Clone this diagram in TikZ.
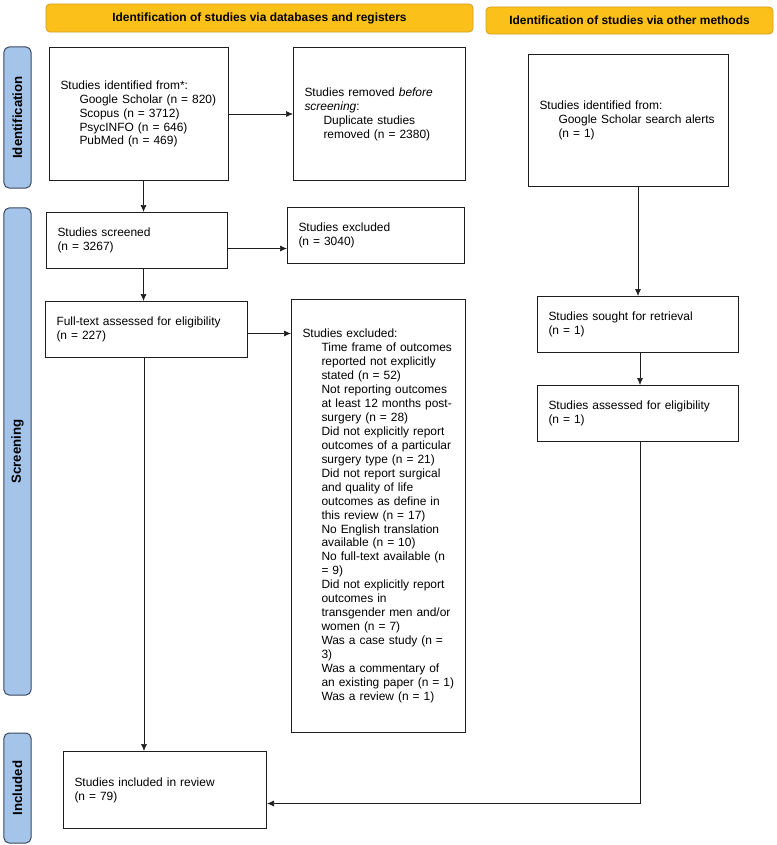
\documentclass[tikz,border=0pt]{standalone}
\usepackage{fontspec}
\setmainfont{Liberation Sans}
\usepackage{tikz}
\usetikzlibrary{arrows.meta, positioning}
\usepackage{xcolor}
\definecolor{HeadFill}{RGB}{251,192,26}
\definecolor{HeadLine}{RGB}{212,158,40}
\definecolor{PhaseFill}{RGB}{164,196,234}
\definecolor{PhaseLine}{RGB}{60,72,95}
\definecolor{LineBlack}{RGB}{30,30,30}
\newcommand{\ind}{\hspace*{19bp}}
\tikzset{%
  header/.style={%
    rectangle,%
    rounded corners=4bp,%
    draw=HeadLine,%
    fill=HeadFill,%
    line width=0.8bp,%
    font={\bfseries\fontsize{12}{14}\selectfont},%
    align=center%
  },
  phase/.style={%
    rectangle,%
    rounded corners=5bp,%
    draw=PhaseLine,%
    fill=PhaseFill,%
    line width=1bp,%
    rotate=90,%
    font={\bfseries\fontsize{13.3}{15}\selectfont},%
    align=center%
  },
  flowbox/.style={%
    rectangle,%
    draw=LineBlack,%
    line width=1bp,%
    anchor=north west,%
    inner xsep=11bp,%
    inner ysep=0bp,%
    font={\fontsize{12}{14}\selectfont},%
    align=left%
  },
  link/.style={%
    color=LineBlack,%
    line width=0.7bp%
  },
  arrow/.style={-{Latex[length=7bp, width=6bp]}},
}
\begin{document}
\begin{tikzpicture}[x=1bp, y=-1bp]

    \useasboundingbox (0,0) rectangle (777,845);

    \node [header, minimum width=427bp, minimum height=28bp] (headDb) at (259.5,18) {%
      Identification of studies via databases and registers%
    };
    \node [header, minimum width=287bp, minimum height=27bp] (headOther) at (629.5,20.5) {%
      Identification of studies via other methods%
    };

    \node [phase, minimum width=141bp, minimum height=27bp] (phaseIdent) at (17.5,117.5) {Identification};
    \node [phase, minimum width=487bp, minimum height=27bp] (phaseScreen) at (17.5,451.5) {Screening};
    \node [phase, minimum width=110bp, minimum height=27bp] (phaseIncl) at (17.5,788) {Included};

    \node [flowbox, text width=157bp, minimum height=133bp] (ident) at (49,47) {%
      Studies identified from*:\\
      \ind Google Scholar (n = 820)\\
      \ind Scopus (n = 3712)\\
      \ind PsycINFO (n = 646)\\
      \ind PubMed (n = 469)%
    };
    \node [flowbox, text width=150bp, minimum height=133bp] (removed) at (293,47) {%
      Studies removed \textit{before}\\
      \textit{screening}:\\
      \ind Duplicate studies\\
      \ind removed (n = 2380)%
    };
    \node [flowbox, text width=178bp, minimum height=132bp] (identOther) at (528,54) {%
      Studies identified from:\\
      \ind Google Scholar search alerts\\
      \ind (n = 1)%
    };
    \node [flowbox, text width=159bp, minimum height=56bp] (screened) at (46,212) {%
      Studies screened\\
      (n = 3267)%
    };
    \node [flowbox, text width=155bp, minimum height=56bp] (exclScreen) at (287,207) {%
      Studies excluded\\
      (n = 3040)%
    };
    \node [flowbox, text width=180bp, minimum height=56bp] (fulltext) at (45,301) {%
      Full-text assessed for eligibility\\
      (n = 227)%
    };
    \node [flowbox, text width=152bp, minimum height=433bp] (exclFull) at (291,299) {%
      Studies excluded:\\
      \ind Time frame of outcomes\\
      \ind reported not explicitly\\
      \ind stated (n = 52)\\
      \ind Not reporting outcomes\\
      \ind at least 12 months post-\\
      \ind surgery (n = 28)\\
      \ind Did not explicitly report\\
      \ind outcomes of a particular\\
      \ind surgery type (n = 21)\\
      \ind Did not report surgical\\
      \ind and quality of life\\
      \ind outcomes as define in\\
      \ind this review (n = 17)\\
      \ind No English translation\\
      \ind available (n = 10)\\
      \ind No full-text available (n\\
      \ind = 9)\\
      \ind Did not explicitly report\\
      \ind outcomes in\\
      \ind transgender men and/or\\
      \ind women (n = 7)\\
      \ind Was a case study (n =\\
      \ind 3)\\
      \ind Was a commentary of\\
      \ind an existing paper (n = 1)\\
      \ind Was a review (n = 1)%
    };
    \node [flowbox, text width=179bp, minimum height=56bp] (sought) at (537,296) {%
      Studies sought for retrieval\\
      (n = 1)%
    };
    \node [flowbox, text width=179bp, minimum height=56bp] (assessed) at (537,385) {%
      Studies assessed for eligibility\\
      (n = 1)%
    };
    \node [flowbox, text width=181bp, minimum height=77bp] (included) at (63,751) {%
      Studies included in review\\
      (n = 79)%
    };

    \draw [arrow, link]
      (ident.east)
      --
      (ident.east -| removed.west);
    \draw [arrow, link]
      ([xshift=4.5bp]ident.south)
      --
      ([xshift=4.5bp]ident.south |- screened.north);
    \draw [arrow, link]
      ([yshift=-8bp]screened.east)
      --
      ([yshift=-8bp]screened.east -| exclScreen.west);
    \draw [arrow, link]
      ([xshift=6.5bp]screened.south)
      --
      ([xshift=6.5bp]screened.south |- fulltext.north);
    \draw [arrow, link]
      ([yshift=-4bp]fulltext.east)
      --
      ([yshift=-4bp]fulltext.east -| exclFull.west);
    \draw [arrow, link]
      ([xshift=-2.5bp]fulltext.south)
      --
      ([xshift=-2.5bp]fulltext.south |- included.north);
    \draw [arrow, link]
      (sought.north |- identOther.south)
      --
      (sought.north);
    \draw [arrow, link]
      ([xshift=2bp]sought.south)
      --
      ([xshift=2bp]sought.south |- assessed.north);
    \draw [arrow, link]
      ([xshift=2bp]assessed.south)
      |-
      ([yshift=-13.5bp]included.east);
  \end{tikzpicture}
\end{document}
